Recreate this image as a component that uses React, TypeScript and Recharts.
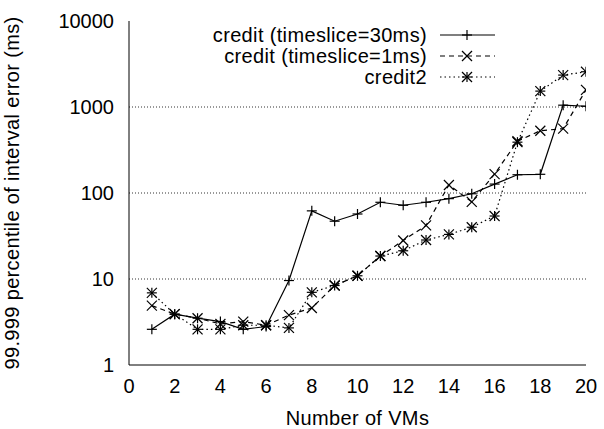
import React from 'react';
import { LineChart, Line, XAxis, YAxis, ReferenceLine, Legend } from 'recharts';

const vms = [1, 2, 3, 4, 5, 6, 7, 8, 9, 10, 11, 12, 13, 14, 15, 16, 17, 18, 19, 20];
const credit30 = [2.6, 3.9, 3.5, 3.2, 2.6, 2.8, 9.6, 62, 47, 57, 78, 72, 78, 86, 98, 127, 163, 165, 1050, 1020];
const credit1 = [4.9, 3.9, 3.5, 3.0, 3.2, 2.9, 3.8, 4.6, 8.4, 10.9, 18.5, 28, 42, 124, 79, 166, 400, 530, 560, 1580];
const credit2 = [6.9, 3.9, 2.6, 2.6, 2.9, 2.9, 2.7, 7.0, 8.4, 10.9, 18.5, 21.3, 28.4, 33, 40, 54, 390, 1530, 2350, 2570];

const seriesNames = ['credit (timeslice=30ms)', 'credit (timeslice=1ms)', 'credit2'];
const xTicks = [0, 2, 4, 6, 8, 10, 12, 14, 16, 18, 20];
const yMajorTicks = [1, 10, 100, 1000, 10000];
const yMinorTicks = [2, 3, 4, 5, 6, 7, 8, 9, 20, 30, 40, 50, 60, 70, 80, 90, 200, 300, 400, 500, 600, 700, 800, 900, 2000, 3000, 4000, 5000, 6000, 7000, 8000, 9000];
const gridValues = [10, 100, 1000];

const data = vms.map((v, i) => ({ vms: v, c30: credit30[i], c1: credit1[i], c2: credit2[i] }));

const FONT = "'Liberation Sans', Arial, Helvetica, sans-serif";
const INK = '#000';
const M = 5;
const LS = 0.35;

function plusShape(cx: number, cy: number) {
  return (
    <>
      <line x1={cx - M} y1={cy} x2={cx + M} y2={cy} stroke={INK} strokeWidth={1.2} />
      <line x1={cx} y1={cy - M} x2={cx} y2={cy + M} stroke={INK} strokeWidth={1.2} />
    </>
  );
}
function crossShape(cx: number, cy: number) {
  return (
    <>
      <line x1={cx - M} y1={cy - M} x2={cx + M} y2={cy + M} stroke={INK} strokeWidth={1.2} />
      <line x1={cx - M} y1={cy + M} x2={cx + M} y2={cy - M} stroke={INK} strokeWidth={1.2} />
    </>
  );
}

const PlusDot = (p: any) => (p.cx == null || p.cy == null ? <g key={p.index} /> : <g key={p.index}>{plusShape(p.cx, p.cy)}</g>);
const CrossDot = (p: any) => (p.cx == null || p.cy == null ? <g key={p.index} /> : <g key={p.index}>{crossShape(p.cx, p.cy)}</g>);
const StarDot = (p: any) => (p.cx == null || p.cy == null ? <g key={p.index} /> : <g key={p.index}>{plusShape(p.cx, p.cy)}{crossShape(p.cx, p.cy)}</g>);

const dashes = [undefined, '5 4', '1.5 3'];
const shapes = [plusShape, crossShape, (x: number, y: number) => (<>{plusShape(x, y)}{crossShape(x, y)}</>)];

const LegendBox = () => (
  <svg width={604} height={100} style={{ display: 'block', pointerEvents: 'none' }}>
    {seriesNames.map((n, i) => {
      const y = 35 + i * 21;
      return (
        <g key={n}>
          <text x={427} y={y} dy="0.36em" textAnchor="end" fontFamily={FONT} fontSize={20} fill={INK} style={{ letterSpacing: `${LS}px` }}>{n}</text>
          <line x1={440} y1={y} x2={495} y2={y} stroke={INK} strokeWidth={1.2} strokeDasharray={dashes[i]} />
          {shapes[i](467, y)}
        </g>
      );
    })}
  </svg>
);

const tickStyle = { fontFamily: FONT, fontSize: 20, fill: INK };

export default function App() {
  return (
    <div style={{ position: 'absolute', left: 0, top: 0, background: '#fff' }}>
      <LineChart width={604} height={429} data={data} margin={{ top: 21, right: 18, bottom: 0, left: 0 }}>
        <XAxis
          xAxisId="b" dataKey="vms" type="number" domain={[0, 20]} ticks={xTicks} interval={0}
          allowDataOverflow height={64} tickLine={false} tickSize={6} tickMargin={8}
          axisLine={{ stroke: INK, strokeWidth: 1 }} tick={tickStyle}
          label={{ value: 'Number of VMs', position: 'insideBottom', offset: 4, style: { fontFamily: FONT, fontSize: 20, fill: INK, letterSpacing: `${LS}px` } }}
        />
        <XAxis xAxisId="bt" type="number" domain={[0, 20]} ticks={xTicks} interval={0} allowDataOverflow
          orientation="bottom" mirror height={0} tick={false} tickSize={6} axisLine={false} tickLine={{ stroke: INK }} />
        <XAxis xAxisId="tp" type="number" domain={[0, 20]} ticks={xTicks} interval={0} allowDataOverflow
          orientation="top" mirror height={0} tick={false} tickSize={6} axisLine={{ stroke: INK }} tickLine={{ stroke: INK }} />
        <YAxis
          yAxisId="l" scale="log" type="number" domain={[1, 10000]} ticks={yMajorTicks} interval={0}
          allowDataOverflow width={129} tickLine={false} tickSize={6} tickMargin={9}
          axisLine={{ stroke: INK, strokeWidth: 1 }} tick={tickStyle}
          label={{ value: '99.999 percentile of interval error (ms)', angle: -90, position: 'insideLeft', offset: 12, style: { textAnchor: 'middle', fontFamily: FONT, fontSize: 20, fill: INK, letterSpacing: `${LS}px` } }}
        />
        <YAxis yAxisId="lmaj" scale="log" type="number" domain={[1, 10000]} ticks={yMajorTicks} interval={0} allowDataOverflow
          orientation="left" mirror width={0} tick={false} tickSize={6} axisLine={false} tickLine={{ stroke: INK }} />
        <YAxis yAxisId="lmin" scale="log" type="number" domain={[1, 10000]} ticks={yMinorTicks} interval={0} allowDataOverflow
          orientation="left" mirror width={0} tick={false} tickSize={3} axisLine={false} tickLine={{ stroke: INK }} />
        <YAxis yAxisId="rmaj" scale="log" type="number" domain={[1, 10000]} ticks={yMajorTicks} interval={0} allowDataOverflow
          orientation="right" mirror width={0} tick={false} tickSize={6} axisLine={{ stroke: INK }} tickLine={{ stroke: INK }} />
        <YAxis yAxisId="rmin" scale="log" type="number" domain={[1, 10000]} ticks={yMinorTicks} interval={0} allowDataOverflow
          orientation="right" mirror width={0} tick={false} tickSize={3} axisLine={false} tickLine={{ stroke: INK }} />
        {gridValues.map((g) => (
          <ReferenceLine key={g} xAxisId="b" yAxisId="l" y={g} stroke="#333" strokeWidth={1} strokeDasharray="1 2" />
        ))}
        <Line xAxisId="b" yAxisId="l" dataKey="c30" name={seriesNames[0]} type="linear" stroke={INK} strokeWidth={1.2}
          dot={PlusDot} activeDot={false} isAnimationActive={false} />
        <Line xAxisId="b" yAxisId="l" dataKey="c1" name={seriesNames[1]} type="linear" stroke={INK} strokeWidth={1.2}
          strokeDasharray="5 4" dot={CrossDot} activeDot={false} isAnimationActive={false} />
        <Line xAxisId="b" yAxisId="l" dataKey="c2" name={seriesNames[2]} type="linear" stroke={INK} strokeWidth={1.2}
          strokeDasharray="1.5 3" dot={StarDot} activeDot={false} isAnimationActive={false} />
        <Legend layout="horizontal" verticalAlign="middle" align="center" content={LegendBox}
          wrapperStyle={{ position: 'absolute', left: 0, top: 0, width: 604, height: 100, margin: 0, padding: 0 }} />
      </LineChart>
    </div>
  );
}
